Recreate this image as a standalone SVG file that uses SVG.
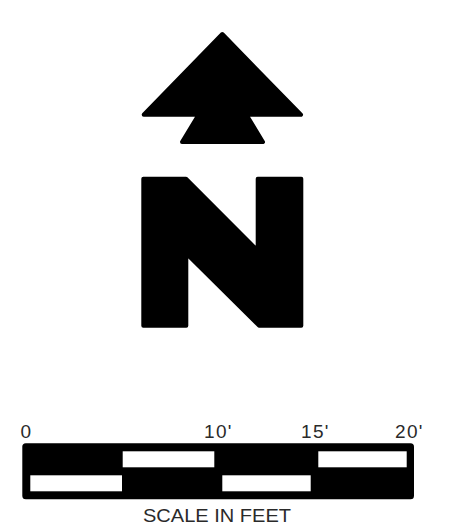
<svg xmlns="http://www.w3.org/2000/svg" width="452" height="531" viewBox="0 0 452 531">
<style>
.s{fill:#000;stroke:#000;stroke-width:4;stroke-linejoin:round}
.w{fill:#fff}
text{font-family:"Liberation Sans",Arial,sans-serif;font-size:19px;fill:#2a2a2a}
</style>
<rect width="452" height="531" fill="#fff"/>
<g id="north-arrow">
<path class="s" d="M222.300 34 L301 114.700 L246.500 114.700 L263 142 L182 142 L198.500 114.700 L143.700 114.700 Z"/>
</g>
<g id="north-letter">
<path class="s" d="M143.300 178.700 L186 178.700 L257.700 250.500 L257.700 178.700 L301.300 178.700 L301.300 325.700 L259 325.700 L186.300 253.500 L186.300 325.700 L143.300 325.700 Z"/>
</g>
<g id="scale-bar">
<rect x="22.300" y="443.300" width="391.700" height="56" rx="3.500" fill="#000"/>
<rect class="w" x="122.700" y="451.300" width="91.600" height="16"/>
<rect class="w" x="318.300" y="451.300" width="88.400" height="16"/>
<rect class="w" x="30.300" y="475.300" width="91.700" height="16"/>
<rect class="w" x="222.300" y="475.300" width="88.400" height="16"/>
</g>
<g id="scale-labels">
<text x="20.500" y="438">0</text>
<text x="204" y="438" textLength="27.500" lengthAdjust="spacing">10'</text>
<text x="301" y="438" textLength="27.500" lengthAdjust="spacing">15'</text>
<text x="395" y="438" textLength="27.500" lengthAdjust="spacing">20'</text>
<text x="143" y="521.500" textLength="148" lengthAdjust="spacingAndGlyphs">SCALE IN FEET</text>
</g>
</svg>
